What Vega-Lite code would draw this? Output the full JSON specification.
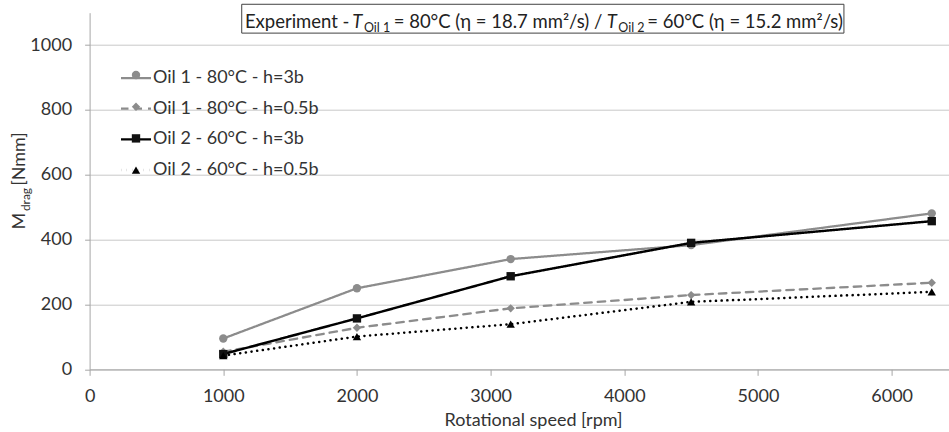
{
  "$schema": "https://vega.github.io/schema/vega-lite/v6.json",
  "width": 859,
  "height": 356.6,
  "autosize": {"type": "none"},
  "padding": {"left": 89.6, "top": 12.7, "right": 0, "bottom": 62.7},
  "background": "white",
  "config": {
    "view": {"stroke": null},
    "font": "Lato",
    "axis": {
      "labelFont": "Lato", "labelFontSize": 18, "labelColor": "#333333",
      "titleFont": "Lato", "titleFontSize": 18, "titleFontWeight": "normal", "titleColor": "#333333",
      "domainColor": "#a6a6a6", "tickColor": "#a6a6a6", "gridColor": "#c8c8c8", "domainWidth": 1, "tickWidth": 1
    }
  },
  "datasets": {
    "measured": [
      {"rpm": 1000, "M": 95, "series": "Oil 1 - 80°C -  h=3b", "marker": "1"},
      {"rpm": 2000, "M": 250, "series": "Oil 1 - 80°C -  h=3b", "marker": "1"},
      {"rpm": 3150, "M": 340, "series": "Oil 1 - 80°C -  h=3b", "marker": "1"},
      {"rpm": 4500, "M": 383, "series": "Oil 1 - 80°C -  h=3b", "marker": "1"},
      {"rpm": 6300, "M": 481, "series": "Oil 1 - 80°C -  h=3b", "marker": "1"},
      {"rpm": 1000, "M": 54, "series": "Oil 1 - 80°C -  h=0.5b", "marker": "2"},
      {"rpm": 2000, "M": 128, "series": "Oil 1 - 80°C -  h=0.5b", "marker": "2"},
      {"rpm": 3150, "M": 188, "series": "Oil 1 - 80°C -  h=0.5b", "marker": "2"},
      {"rpm": 4500, "M": 229, "series": "Oil 1 - 80°C -  h=0.5b", "marker": "2"},
      {"rpm": 6300, "M": 267, "series": "Oil 1 - 80°C -  h=0.5b", "marker": "2"},
      {"rpm": 1000, "M": 47, "series": "Oil 2 - 60°C -  h=3b", "marker": "3"},
      {"rpm": 2000, "M": 157, "series": "Oil 2 - 60°C -  h=3b", "marker": "3"},
      {"rpm": 3150, "M": 287, "series": "Oil 2 - 60°C -  h=3b", "marker": "3"},
      {"rpm": 4500, "M": 390, "series": "Oil 2 - 60°C -  h=3b", "marker": "3"},
      {"rpm": 6300, "M": 457, "series": "Oil 2 - 60°C -  h=3b", "marker": "3"},
      {"rpm": 1000, "M": 42, "series": "Oil 2 - 60°C -  h=0.5b", "marker": "4"},
      {"rpm": 2000, "M": 101, "series": "Oil 2 - 60°C -  h=0.5b", "marker": "4"},
      {"rpm": 3150, "M": 139, "series": "Oil 2 - 60°C -  h=0.5b", "marker": "4"},
      {"rpm": 4500, "M": 208, "series": "Oil 2 - 60°C -  h=0.5b", "marker": "4"},
      {"rpm": 6300, "M": 239, "series": "Oil 2 - 60°C -  h=0.5b", "marker": "4"}
    ],
    "one": [{"a": 1}]
  },
  "layer": [
    {
      "data": {"name": "measured"},
      "mark": {"type": "line", "strokeCap": "round", "strokeJoin": "round"},
      "encoding": {
        "x": {
          "field": "rpm", "type": "quantitative",
          "scale": {"domain": [0, 6426], "nice": false, "zero": false},
          "axis": {
            "values": [0, 1000, 2000, 3000, 4000, 5000, 6000], "format": "d", "grid": false, "tickSize": 6,
            "labelPadding": 12, "labelFlush": false, "labelOverlap": false,
            "title": "Rotational speed [rpm]", "titleX": 443.4, "titleY": 56.7, "titleBaseline": "alphabetic", "titleAlign": "center"
          }
        },
        "y": {
          "field": "M", "type": "quantitative",
          "scale": {"domain": [0, 1100], "nice": false},
          "axis": {
            "values": [0, 200, 400, 600, 800, 1000], "format": "d", "grid": true, "tickSize": 5,
            "labelPadding": 13, "title": null
          }
        },
        "color": {
          "field": "series", "type": "nominal",
          "scale": {
            "domain": ["Oil 1 - 80°C -  h=3b", "Oil 1 - 80°C -  h=0.5b", "Oil 2 - 60°C -  h=3b", "Oil 2 - 60°C -  h=0.5b"],
            "range": ["#8c8c8c", "#8c8c8c", "#000000", "#000000"]
          },
          "legend": {
            "orient": "none", "legendX": 29.9, "legendY": 48.8, "title": null, "padding": 0,
            "symbolType": "stroke", "symbolSize": 900, "symbolStrokeWidth": 2.5,
            "labelFont": "Lato", "labelFontSize": 18, "labelColor": "#333333", "labelOffset": 0.5,
            "rowPadding": 4.7, "labelLimit": 400
          }
        },
        "strokeDash": {
          "field": "series", "type": "nominal",
          "scale": {
            "domain": ["Oil 1 - 80°C -  h=3b", "Oil 1 - 80°C -  h=0.5b", "Oil 2 - 60°C -  h=3b", "Oil 2 - 60°C -  h=0.5b"],
            "range": [[1, 0], [7.5, 6], [1, 0], [0.1, 5.6]]
          },
          "legend": {
            "orient": "none", "legendX": 29.9, "legendY": 48.8, "title": null, "padding": 0,
            "symbolType": "stroke", "symbolSize": 900, "symbolStrokeWidth": 2.5,
            "labelFont": "Lato", "labelFontSize": 18, "labelColor": "#333333", "labelOffset": 0.5,
            "rowPadding": 4.7, "labelLimit": 400
          }
        },
        "strokeWidth": {
          "field": "series", "type": "nominal",
          "scale": {
            "domain": ["Oil 1 - 80°C -  h=3b", "Oil 1 - 80°C -  h=0.5b", "Oil 2 - 60°C -  h=3b", "Oil 2 - 60°C -  h=0.5b"],
            "range": [2.25, 2.5, 2.25, 3]
          },
          "legend": null
        }
      }
    },
    {
      "data": {"name": "measured"},
      "mark": {"type": "point", "filled": true, "opacity": 1, "strokeWidth": 0, "size": 70},
      "encoding": {
        "x": {"field": "rpm", "type": "quantitative"},
        "y": {"field": "M", "type": "quantitative"},
        "shape": {
          "field": "marker", "type": "nominal",
          "scale": {"domain": ["1", "2", "3", "4"], "range": ["circle", "diamond", "square", "triangle-up"]},
          "legend": {
            "orient": "none", "legendX": 37.4, "legendY": 53.3, "title": null, "padding": 0,
            "symbolSize": 70, "symbolStrokeWidth": 0, "symbolOpacity": 1,
            "labelFont": "Lato", "labelFontSize": 18, "labelExpr": "''", "labelOffset": 0.5,
            "rowPadding": 13.7
          }
        },
        "fill": {
          "field": "marker", "type": "nominal",
          "scale": {"domain": ["1", "2", "3", "4"], "range": ["#8c8c8c", "#8c8c8c", "#111111", "#000000"]},
          "legend": {
            "orient": "none", "legendX": 37.4, "legendY": 53.3, "title": null, "padding": 0,
            "symbolSize": 70, "symbolStrokeWidth": 0, "symbolOpacity": 1,
            "labelFont": "Lato", "labelFontSize": 18, "labelExpr": "''", "labelOffset": 0.5,
            "rowPadding": 13.7
          }
        }
      }
    },
    {
      "data": {"name": "one"},
      "mark": {"type": "rect", "fill": "white", "stroke": "#404040", "strokeWidth": 1},
      "encoding": {"x": {"datum": 1138, "type": "quantitative"}, "x2": {"datum": 5643}, "y": {"datum": 1037, "type": "quantitative"}, "y2": {"datum": 1126}}
    },
    {
      "data": {"name": "one"},
      "mark": {"type": "text", "text": "Experiment -", "align": "left", "baseline": "alphabetic", "fontSize": 18.5, "font": "Lato", "color": "#222222"},
      "encoding": {"x": {"datum": 1162, "type": "quantitative"}, "y": {"datum": 1051.5, "type": "quantitative"}}
    },
    {
      "data": {"name": "one"},
      "mark": {"type": "text", "text": "T", "align": "left", "baseline": "alphabetic", "fontSize": 18.5, "font": "Lato", "fontStyle": "italic", "color": "#222222"},
      "encoding": {"x": {"datum": 1965, "type": "quantitative"}, "y": {"datum": 1051.5, "type": "quantitative"}}
    },
    {
      "data": {"name": "one"},
      "mark": {"type": "text", "text": "Oil 1", "align": "left", "baseline": "alphabetic", "fontSize": 12.5, "font": "Lato", "color": "#222222"},
      "encoding": {"x": {"datum": 2052, "type": "quantitative"}, "y": {"datum": 1040, "type": "quantitative"}}
    },
    {
      "data": {"name": "one"},
      "mark": {"type": "text", "text": "= 80°C (η = 18.7 mm²/s) /", "align": "left", "baseline": "alphabetic", "fontSize": 18.5, "font": "Lato", "color": "#222222"},
      "encoding": {"x": {"datum": 2275, "type": "quantitative"}, "y": {"datum": 1051.5, "type": "quantitative"}}
    },
    {
      "data": {"name": "one"},
      "mark": {"type": "text", "text": "T", "align": "left", "baseline": "alphabetic", "fontSize": 18.5, "font": "Lato", "fontStyle": "italic", "color": "#222222"},
      "encoding": {"x": {"datum": 3868, "type": "quantitative"}, "y": {"datum": 1051.5, "type": "quantitative"}}
    },
    {
      "data": {"name": "one"},
      "mark": {"type": "text", "text": "Oil 2", "align": "left", "baseline": "alphabetic", "fontSize": 12.5, "font": "Lato", "color": "#222222"},
      "encoding": {"x": {"datum": 3955, "type": "quantitative"}, "y": {"datum": 1040, "type": "quantitative"}}
    },
    {
      "data": {"name": "one"},
      "mark": {"type": "text", "text": "= 60°C (η = 15.2 mm²/s)", "align": "left", "baseline": "alphabetic", "fontSize": 18.5, "font": "Lato", "color": "#222222"},
      "encoding": {"x": {"datum": 4172, "type": "quantitative"}, "y": {"datum": 1051.5, "type": "quantitative"}}
    },
    {
      "data": {"name": "one"},
      "mark": {"type": "text", "text": "M", "align": "left", "baseline": "alphabetic", "angle": 270, "fontSize": 18, "font": "Lato", "color": "#333333"},
      "encoding": {"x": {"datum": -483, "type": "quantitative"}, "y": {"datum": 431, "type": "quantitative"}}
    },
    {
      "data": {"name": "one"},
      "mark": {"type": "text", "text": "drag", "align": "left", "baseline": "alphabetic", "angle": 270, "fontSize": 12, "font": "Lato", "color": "#333333"},
      "encoding": {"x": {"datum": -446, "type": "quantitative"}, "y": {"datum": 488, "type": "quantitative"}}
    },
    {
      "data": {"name": "one"},
      "mark": {"type": "text", "text": "[Nmm]", "align": "left", "baseline": "alphabetic", "angle": 270, "fontSize": 18, "font": "Lato", "color": "#333333"},
      "encoding": {"x": {"datum": -483, "type": "quantitative"}, "y": {"datum": 566, "type": "quantitative"}}
    }
  ]
}
